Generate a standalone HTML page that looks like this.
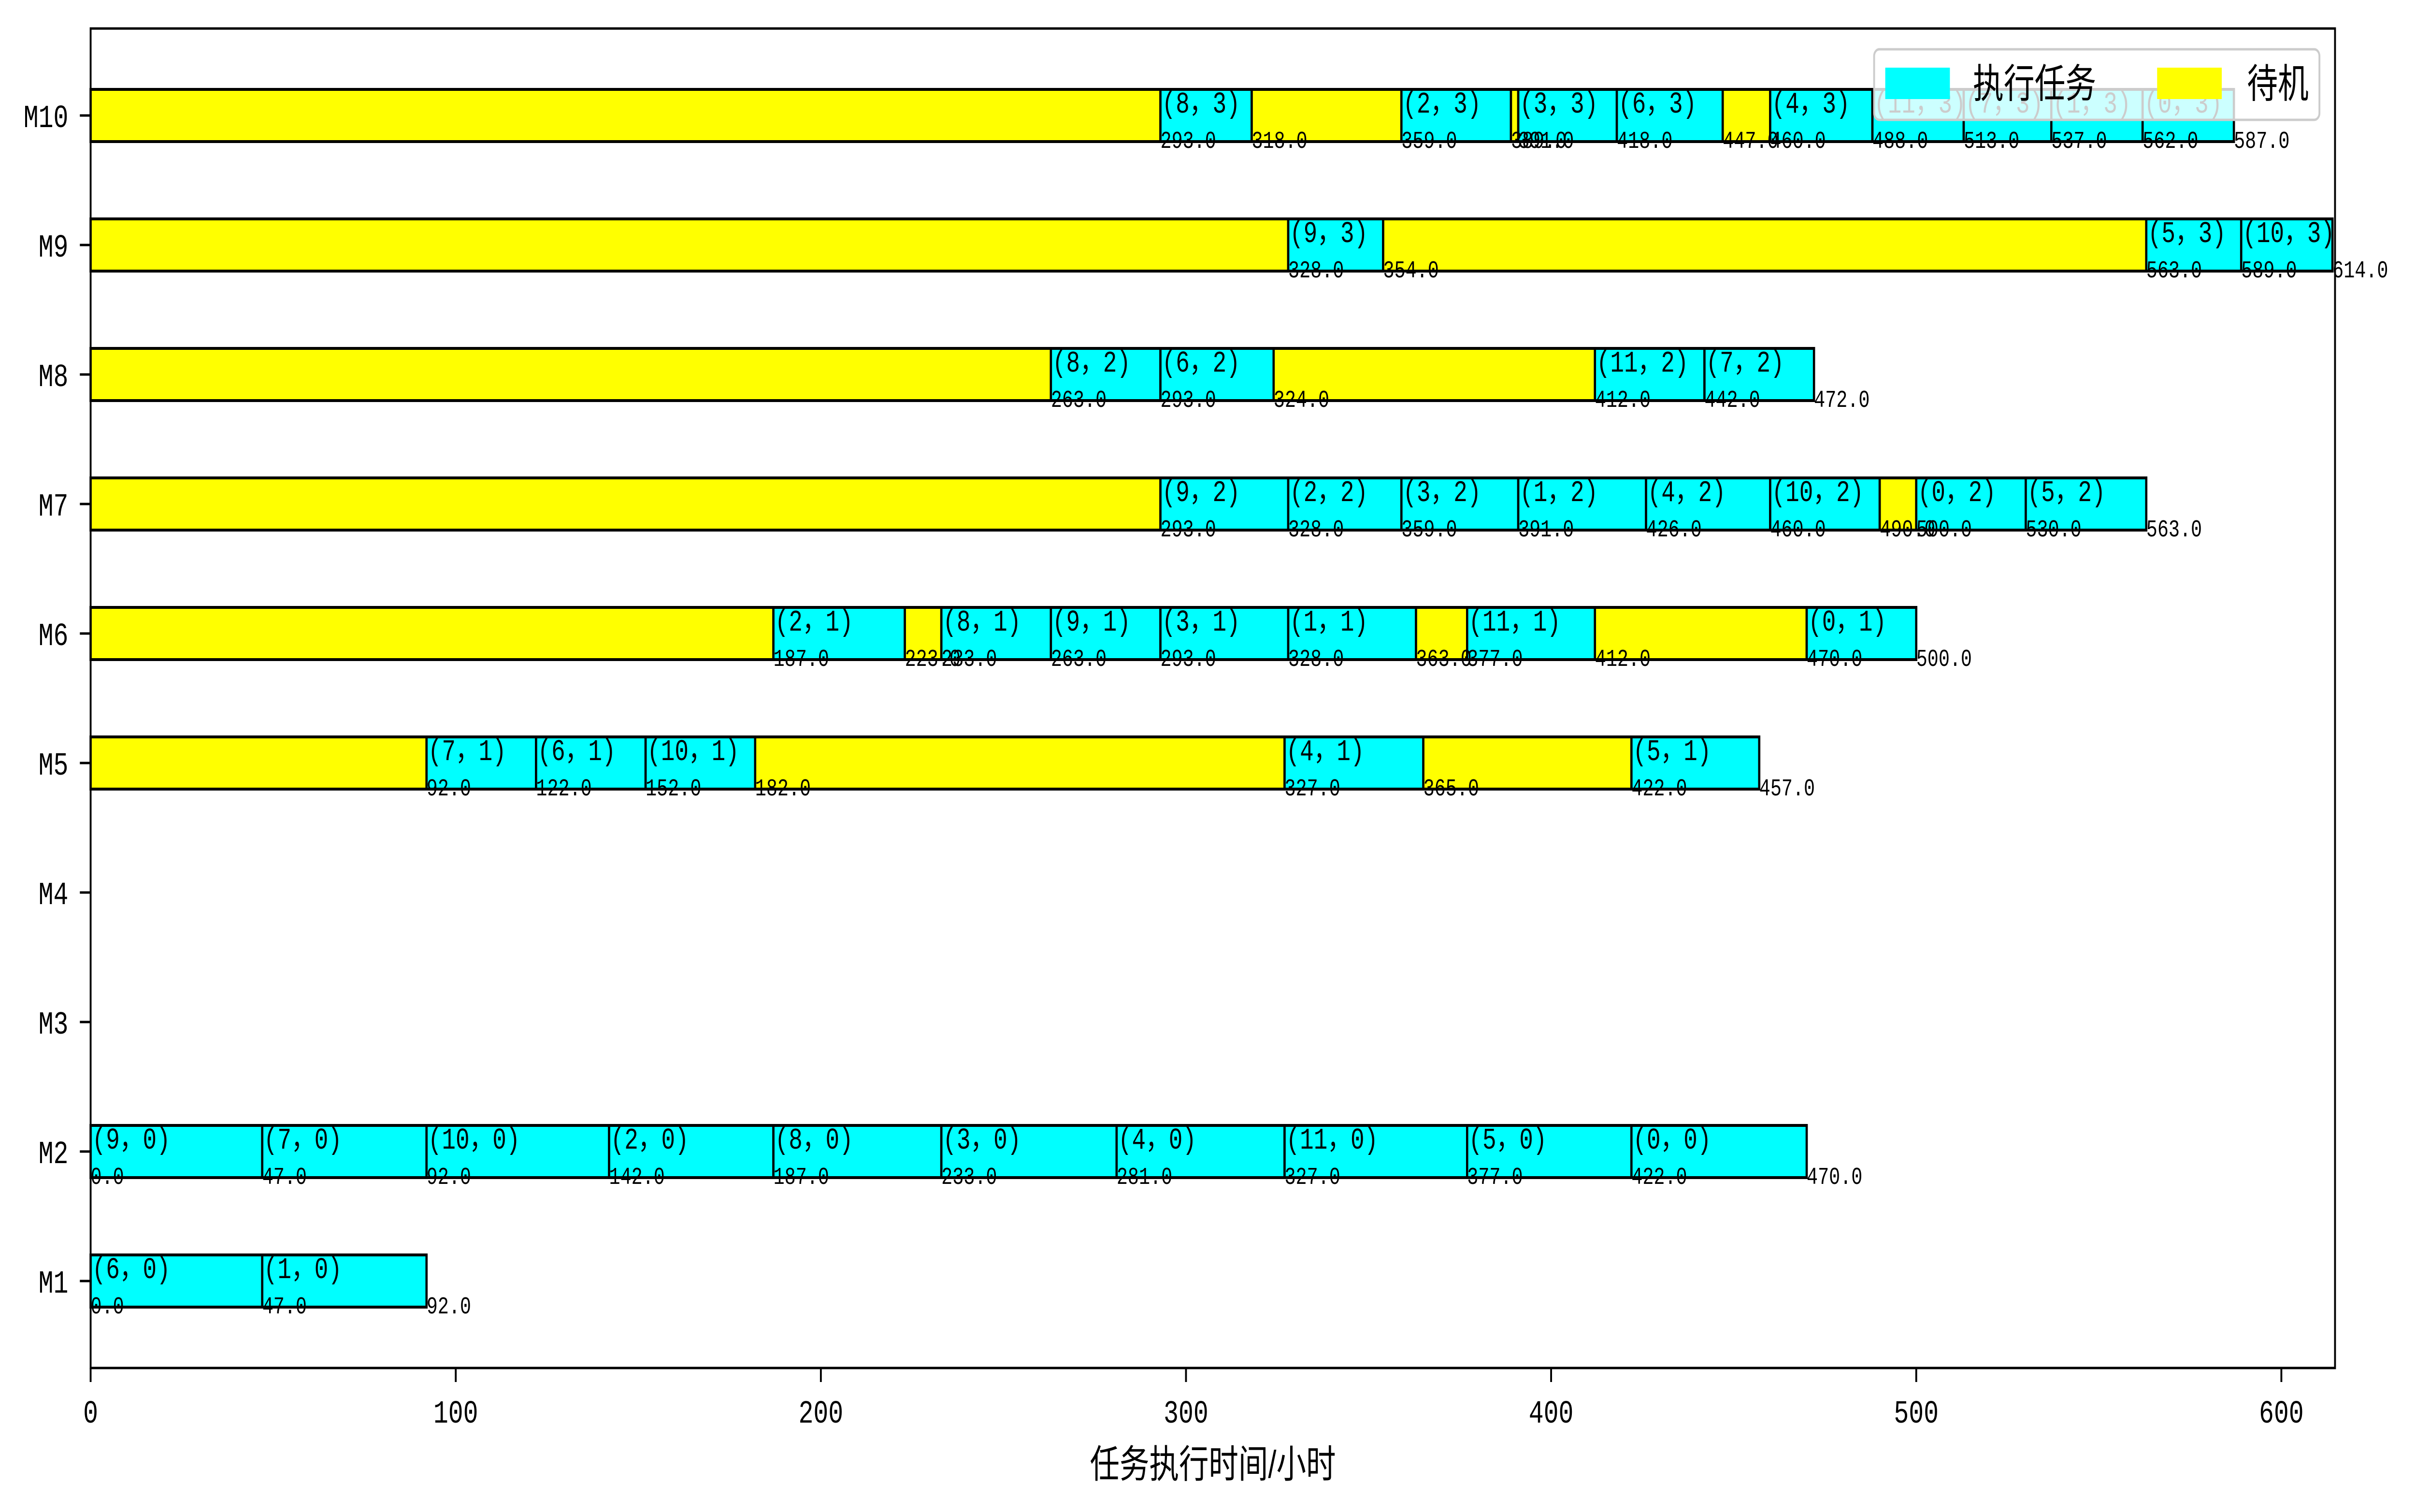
<!DOCTYPE html>
<html><head><meta charset="utf-8"><style>html,body{margin:0;padding:0;background:#fff;overflow:hidden;width:100vw;height:100vh}svg{display:block;width:100vw;height:100vh}</style></head>
<body>
<svg id="chart" viewBox="0 0 6505 3129" preserveAspectRatio="none" xmlns="http://www.w3.org/2000/svg">
<rect width="6505" height="3129" fill="#fff"/>
<g id="bars"></g>
<g id="axes"></g>
<g id="legend"></g>
</svg>
<script>
const machines = ["M1","M2","M3","M4","M5","M6","M7","M8","M9","M10"];
const xTicks = [0,100,200,300,400,500,600];
// segment data per machine: [start, end, jobLabel or null for idle]
const segM1 = [[0,47,"6,0"],[47,92,"1,0"]];
const segM2 = [[0,47,"9,0"],[47,92,"7,0"],[92,142,"10,0"],[142,187,"2,0"],[187,233,"8,0"],[233,281,"3,0"],[281,327,"4,0"],[327,377,"11,0"],[377,422,"5,0"],[422,470,"0,0"]];
const segM3 = [];
const segM4 = [];
const segM5 = [[0,92,null],[92,122,"7,1"],[122,152,"6,1"],[152,182,"10,1"],[182,327,null],[327,365,"4,1"],[365,422,null],[422,457,"5,1"]];
const segM6 = [[0,187,null],[187,223,"2,1"],[223,233,null],[233,263,"8,1"],[263,293,"9,1"],[293,328,"3,1"],[328,363,"1,1"],[363,377,null],[377,412,"11,1"],[412,470,null],[470,500,"0,1"]];
const segM7 = [[0,293,null],[293,328,"9,2"],[328,359,"2,2"],[359,391,"3,2"],[391,426,"1,2"],[426,460,"4,2"],[460,490,"10,2"],[490,500,null],[500,530,"0,2"],[530,563,"5,2"]];
const segM8 = [[0,263,null],[263,293,"8,2"],[293,324,"6,2"],[324,412,null],[412,442,"11,2"],[442,472,"7,2"]];
const segM9 = [[0,328,null],[328,354,"9,3"],[354,563,null],[563,589,"5,3"],[589,614,"10,3"]];
const segM10 = [[0,293,null],[293,318,"8,3"],[318,359,null],[359,389,"2,3"],[389,391,null],[391,418,"3,3"],[418,447,"6,3"],[447,460,null],[460,488,"4,3"],[488,513,"11,3"],[513,537,"7,3"],[537,562,"1,3"],[562,587,"0,3"]];
const allSegs = [segM1,segM2,segM3,segM4,segM5,segM6,segM7,segM8,segM9,segM10];

const NS = "http://www.w3.org/2000/svg";
const L = 244, R = 6287, T = 59, B = 2831;
const xMax = 614.7;
function xs(v){ return L + v/xMax*(R-L); }
function ys(i){ return 2651 - i*268; }
const barH = 108;
function mk(tag, attrs, parent){ const e=document.createElementNS(NS,tag); for(const k in attrs) e.setAttribute(k,attrs[k]); parent.appendChild(e); return e; }
const bars = document.getElementById('bars');
const axes = document.getElementById('axes');
const legend = document.getElementById('legend');
const MONO = '"Liberation Mono","Noto Sans CJK SC",monospace';

allSegs.forEach((segs, i) => {
  const cy = ys(i);
  segs.forEach((s, j) => {
    const r = mk('rect',{x:xs(s[0]),y:cy-barH/2,width:xs(s[1])-xs(s[0]),height:barH,fill:s[2]?'#00ffff':'#ffff00',stroke:'#000','stroke-width':6},bars);
    
    
  });
  segs.forEach((s, j) => {
    if (s[2]) {
      const parts = s[2].split(',');
      const t = mk('text',{x:xs(s[0])+4,y:cy-6,'font-size':62,'font-family':MONO,fill:'#000'},bars);
      t.textContent = '(' + parts[0] + '，' + parts[1] + ')';
      
      
    }
    if (s[2] || s[0] > 0) {
      const n = mk('text',{x:xs(s[0]),y:cy+67,'font-size':50,'font-family':MONO,fill:'#000'},bars);
      n.textContent = s[0].toFixed(1);
      
      
    }
    if (j === segs.length-1) {
      const e = mk('text',{x:xs(s[1]),y:cy+67,'font-size':50,'font-family':MONO,fill:'#000'},bars);
      e.textContent = s[1].toFixed(1);
      
      
    }
  });
});

// axes frame
const frame = mk('rect',{x:L,y:T,width:R-L,height:B-T,fill:'none',stroke:'#000','stroke-width':5},axes);


machines.forEach((m, i) => {
  const cy = ys(i);
  const tk = mk('line',{x1:L-29,x2:L,y1:cy,y2:cy,stroke:'#000','stroke-width':5},axes);
  
  
  const t = mk('text',{x:L-60,y:cy+24,'font-size':67,'font-family':MONO,'text-anchor':'end',fill:'#000'},axes);
  t.textContent = m;
  
  
});
xTicks.forEach(v => {
  const x = xs(v);
  const tk = mk('line',{x1:x,x2:x,y1:B,y2:B+29,stroke:'#000','stroke-width':5},axes);
  
  
  const t = mk('text',{x:x,y:2944,'font-size':67,'font-family':MONO,'text-anchor':'middle',fill:'#000'},axes);
  t.textContent = String(v);
  
  
});
const xt = mk('text',{x:(L+R)/2,y:3058,'font-size':80,'font-family':'"Liberation Sans","Noto Sans CJK SC",sans-serif','text-anchor':'middle',fill:'#000'},axes);
xt.textContent = '任务执行时间/小时';



// legend
const lb = mk('rect',{x:5046,y:102,width:1199,height:146,rx:14,fill:'#fff','fill-opacity':0.8,stroke:'#cccccc','stroke-width':5},legend);


const p1 = mk('rect',{x:5076,y:140,width:174,height:65,fill:'#00ffff'},legend);


const t1 = mk('text',{x:5312,y:202,'font-size':83,'font-family':'"Noto Sans CJK SC",sans-serif',fill:'#000'},legend);
t1.textContent = '执行任务';


const p2 = mk('rect',{x:5808,y:140,width:174,height:65,fill:'#ffff00'},legend);


const t2 = mk('text',{x:6050,y:202,'font-size':83,'font-family':'"Noto Sans CJK SC",sans-serif',fill:'#000'},legend);
t2.textContent = '待机';


</script>
</body></html>
